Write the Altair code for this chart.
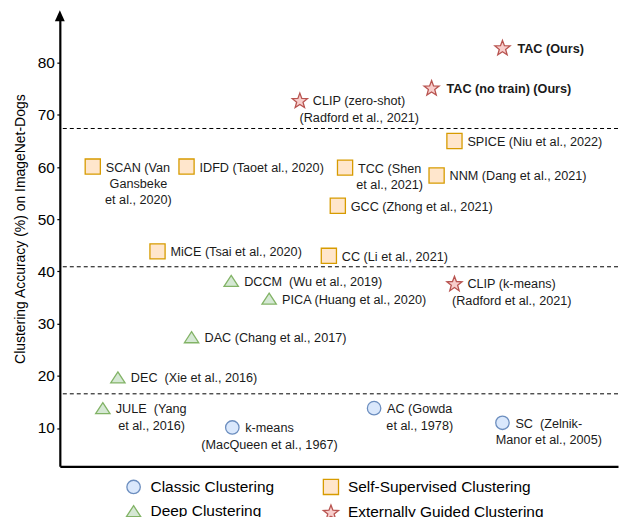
import altair as alt
import pandas as pd

# ---------------- data ----------------
labels = [
    "TAC (Ours)",
    "TAC (no train) (Ours)",
    "CLIP (zero-shot)\n(Radford et al., 2021)",
    "SPICE (Niu et al., 2022)",
    "SCAN (Van\nGansbeke\net al., 2020)",
    "IDFD (Taoet al., 2020)",
    "TCC (Shen\net al., 2021)",
    "NNM (Dang et al., 2021)",
    "GCC (Zhong et al., 2021)",
    "MiCE (Tsai et al., 2020)",
    "CC (Li et al., 2021)",
    "DCCM\u00a0 (Wu et al., 2019)",
    "PICA (Huang et al., 2020)",
    "DAC (Chang et al., 2017)",
    "DEC\u00a0 (Xie et al., 2016)",
    "JULE\u00a0 (Yang\net al., 2016)",
    "k-means\n(MacQueen et al., 1967)",
    "AC (Gowda\net al., 1978)",
    "SC\u00a0 (Zelnik-\nManor et al., 2005)",
    "CLIP (k-means)\n(Radford et al., 2021)",
]
groups = [
    "Externally Guided Clustering", "Externally Guided Clustering", "Externally Guided Clustering",
    "Self-Supervised Clustering", "Self-Supervised Clustering", "Self-Supervised Clustering",
    "Self-Supervised Clustering", "Self-Supervised Clustering", "Self-Supervised Clustering",
    "Self-Supervised Clustering", "Self-Supervised Clustering",
    "Deep Clustering", "Deep Clustering", "Deep Clustering", "Deep Clustering", "Deep Clustering",
    "Classic Clustering", "Classic Clustering", "Classic Clustering",
    "Externally Guided Clustering",
]
# horizontal placement (unlabelled axis, 0-100)
x_pos = [79.3, 66.6, 43.0, 70.7, 5.9, 22.7, 51.1, 67.5, 49.8, 17.5,
         48.2, 30.7, 37.5, 23.6, 10.4, 7.7, 30.9, 56.3, 79.3, 70.7]
# clustering accuracy (%) on ImageNet-Dogs
accuracy = [82.9, 75.2, 72.8, 65.0, 60.1, 60.1, 59.9, 58.4, 52.6, 43.85,
            43.0, 38.2, 34.8, 27.4, 19.7, 13.8, 10.1, 13.8, 11.0, 37.7]
thresholds = [67.4, 40.9, 16.55]
y_ticks = [10, 20, 30, 40, 50, 60, 70, 80]
# legend order (entries fill column by column)
categories = ["Classic Clustering", "Deep Clustering",
              "Self-Supervised Clustering", "Externally Guided Clustering"]

# ---------------- layout / style ----------------
PLOT_W, PLOT_H = 560, 452
X_DOMAIN = [0, 100]
Y_DOMAIN = [2.65, 89.0]
PX_X = PLOT_W / (X_DOMAIN[1] - X_DOMAIN[0])
PX_Y = PLOT_H / (Y_DOMAIN[1] - Y_DOMAIN[0])
FONT = "Liberation Sans"
LABEL_SIZE = 12.7
LINE_H = 16.5
DX = 13
DX_BOLD = 15

STAR = ("M0,-0.905L0.247,-0.245L0.951,-0.214L0.399,0.225L0.588,0.904L0,0.515"
        "L-0.588,0.904L-0.399,0.225L-0.951,-0.214L-0.247,-0.245Z")
TRI = "M0,-0.77L1,0.77L-1,0.77Z"
ARROW = "M0,-1L0.9,1L-0.9,1Z"

shapes = ["circle", TRI, "square", STAR]
fills = ["#dae8fc", "#d5e8d4", "#ffe6cc", "#f8cecc"]
strokes = ["#6c8ebf", "#82b366", "#d79b00", "#b85450"]
sizes = [182, 256, 177, 309]

W = {' ': 278, '\u00a0': 278, '(': 333, ')': 333, ',': 278, '.': 278, '-': 333, '%': 889}
for d in "0123456789":
    W[d] = 556
W.update(dict(zip("abcdefghijklmnopqrstuvwxyz",
                  [556, 556, 500, 556, 556, 278, 556, 556, 222, 222, 500, 222, 833,
                   556, 556, 556, 556, 333, 500, 278, 556, 500, 722, 500, 500, 500])))
W.update(dict(zip("ABCDEFGHIJKLMNOPQRSTUVWXYZ",
                  [667, 667, 722, 722, 667, 611, 778, 722, 278, 500, 667, 556, 833,
                   722, 778, 667, 778, 722, 667, 611, 722, 667, 944, 667, 667, 611])))


def text_w(s, size):
    return sum(W.get(c, 556) for c in s) / 1000 * size


pts = pd.DataFrame({"x": x_pos, "y": accuracy, "group": groups, "label": labels})

first_rows, cont_rows = [], []
for xv, yv, lab in zip(x_pos, accuracy, labels):
    lines = lab.split("\n")
    bold = "(Ours)" in lab
    first_rows.append({"x": xv, "y": yv, "t": lines[0], "bold": bold})
    center = xv + (DX + text_w(lines[0], LABEL_SIZE) / 2) / PX_X
    for k, ln in enumerate(lines[1:], start=1):
        cont_rows.append({"x": center, "y": yv - k * LINE_H / PX_Y, "t": ln})
first_df = pd.DataFrame(first_rows)
cont_df = pd.DataFrame(cont_rows)

xs = alt.Scale(domain=X_DOMAIN, nice=False, zero=False)
ys = alt.Scale(domain=Y_DOMAIN, nice=False, zero=False)
x_axis = alt.Axis(title=None, labels=False, ticks=False, grid=False,
                  domainColor="black", domainWidth=2.2)
y_axis = alt.Axis(title="Clustering Accuracy (%) on ImageNet-Dogs", values=y_ticks,
                  grid=False, domainColor="black", domainWidth=2.2,
                  tickColor="black", tickSize=3, tickWidth=1.2,
                  labelFontSize=15.5, labelColor="black", labelPadding=2.5,
                  titleFontSize=14, titleFontWeight="normal", titleColor="black",
                  titlePadding=9.5, titleY=213.5)
X = alt.X("x:Q", scale=xs, axis=x_axis)
Y = alt.Y("y:Q", scale=ys, axis=y_axis)

legend = alt.Legend(title=None, orient="none", legendX=65, legendY=464,
                    columns=2, columnPadding=45, rowPadding=5, padding=0,
                    labelFontSize=15.5, labelColor="black", labelOffset=8,
                    labelLimit=400, symbolStrokeWidth=1.3, labelFont=FONT)

rules = alt.Chart(pd.DataFrame({"y": thresholds})).mark_rule(
    color="black", strokeWidth=1, strokeDash=[4, 3]).encode(y=Y)

points = alt.Chart(pts).mark_point(filled=True, opacity=1, strokeWidth=1.3).encode(
    x=X, y=Y,
    shape=alt.Shape("group:N", scale=alt.Scale(domain=categories, range=shapes), legend=legend),
    fill=alt.Fill("group:N", scale=alt.Scale(domain=categories, range=fills), legend=legend),
    stroke=alt.Stroke("group:N", scale=alt.Scale(domain=categories, range=strokes), legend=legend),
    size=alt.Size("group:N", scale=alt.Scale(domain=categories, range=sizes), legend=legend),
)

arrow = alt.Chart(pd.DataFrame({"x": [X_DOMAIN[0]], "y": [Y_DOMAIN[1]]})).mark_point(
    shape=ARROW, filled=True, color="black", opacity=1, size=121).encode(x=X, y=Y)

first_txt = alt.Chart(first_df).transform_filter("!datum.bold").mark_text(
    align="left", baseline="middle", dx=DX, dy=1, fontSize=LABEL_SIZE, color="#1a1a1a"
).encode(x=X, y=Y, text="t:N")

bold_txt = alt.Chart(first_df).transform_filter("datum.bold").mark_text(
    align="left", baseline="middle", dx=DX_BOLD, dy=1, fontSize=LABEL_SIZE,
    fontWeight="bold", color="#1a1a1a"
).encode(x=X, y=Y, text="t:N")

cont_txt = alt.Chart(cont_df).mark_text(
    align="center", baseline="middle", dy=1, fontSize=LABEL_SIZE, color="#1a1a1a"
).encode(x=X, y=Y, text="t:N")

chart = alt.layer(rules, points, arrow, first_txt, bold_txt, cont_txt).properties(
    width=PLOT_W, height=PLOT_H,
    padding={"left": 5, "top": 1, "right": 0, "bottom": 0},
).configure(font=FONT).configure_view(stroke=None)

chart.save("out.html", embed_options={"renderer": "svg", "actions": False})
